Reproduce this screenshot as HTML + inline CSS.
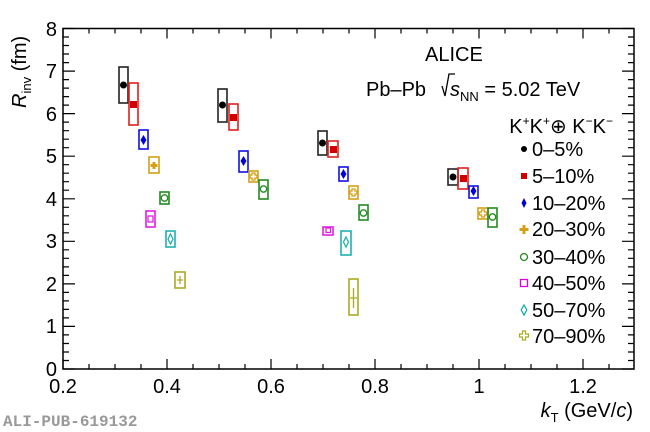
<!DOCTYPE html>
<html><head><meta charset="utf-8"><style>
html,body{margin:0;padding:0;background:#fff;}
svg{display:block;font-family:"Liberation Sans",sans-serif;}
</style></head><body>
<svg width="650" height="432" viewBox="0 0 650 432" xmlns="http://www.w3.org/2000/svg">
<rect x="0" y="0" width="650" height="432" fill="#fff"/>
<!-- frame -->
<rect x="63" y="28.5" width="571" height="340.5" fill="none" stroke="#000" stroke-width="1.5"/>
<g stroke="#000" stroke-width="1.2" id="ticks">
<!-- x major -->
<path d="M63 369v-10M167 369v-10M271 369v-10M375 369v-10M479 369v-10M583 369v-10
M63 28.5v10M167 28.5v10M271 28.5v10M375 28.5v10M479 28.5v10M583 28.5v10"/>
<!-- x minor -->
<path d="M89 369v-5M115 369v-5M141 369v-5M193 369v-5M219 369v-5M245 369v-5M297 369v-5M323 369v-5M349 369v-5M401 369v-5M427 369v-5M453 369v-5M505 369v-5M531 369v-5M557 369v-5M609 369v-5
M89 28.5v5M115 28.5v5M141 28.5v5M193 28.5v5M219 28.5v5M245 28.5v5M297 28.5v5M323 28.5v5M349 28.5v5M401 28.5v5M427 28.5v5M453 28.5v5M505 28.5v5M531 28.5v5M557 28.5v5M609 28.5v5"/>
<!-- y major -->
<path d="M63 369h12M63 326.4h12M63 283.9h12M63 241.3h12M63 198.8h12M63 156.2h12M63 113.6h12M63 71.1h12M63 28.5h12
M634 369h-12M634 326.4h-12M634 283.9h-12M634 241.3h-12M634 198.8h-12M634 156.2h-12M634 113.6h-12M634 71.1h-12M634 28.5h-12"/>
</g>
<g stroke="#000" stroke-width="1.2" id="ymin"></g>
<!-- y tick labels -->
<g font-size="20" text-anchor="end" fill="#000">
<text x="57" y="376">0</text><text x="57" y="333">1</text><text x="57" y="291">2</text><text x="57" y="248">3</text>
<text x="57" y="206">4</text><text x="57" y="163">5</text><text x="57" y="121">6</text><text x="57" y="78">7</text><text x="57" y="36">8</text>
</g>
<g font-size="20" text-anchor="middle" fill="#000">
<text x="63" y="393">0.2</text><text x="167" y="393">0.4</text><text x="271" y="393">0.6</text><text x="375" y="393">0.8</text>
<text x="479" y="393">1</text><text x="583" y="393">1.2</text>
</g>
<text x="633" y="417" font-size="20" text-anchor="end"><tspan font-style="italic">k</tspan><tspan font-size="13" dy="5">T</tspan><tspan dy="-5"> (GeV/</tspan><tspan font-style="italic">c</tspan>)</text>
<text transform="translate(26,108) rotate(-90)" font-size="20"><tspan font-style="italic">R</tspan><tspan font-size="13" dy="5">inv</tspan><tspan dy="-5"> (fm)</tspan></text>
<text x="3" y="426" font-family="Liberation Mono,monospace" font-weight="bold" font-size="16" fill="#999">ALI-PUB-619132</text>
<!-- annotations -->
<text x="425" y="61" font-size="20">ALICE</text>
<text x="366" y="96" font-size="20">Pb–Pb</text>
<path d="M442 86l3 10 4-22h6" fill="none" stroke="#000" stroke-width="1.3"/>
<text x="450" y="96" font-size="20"><tspan font-style="italic">s</tspan><tspan font-size="13" dy="5">NN</tspan><tspan dy="-5"> = 5.02 TeV</tspan></text>
<text x="613" y="133" font-size="20" text-anchor="end">K<tspan font-size="12" dy="-8">+</tspan><tspan dy="8">K</tspan><tspan font-size="12" dy="-8">+</tspan><tspan dy="8">⊕ K</tspan><tspan font-size="12" dy="-8">−</tspan><tspan dy="8">K</tspan><tspan font-size="12" dy="-8">−</tspan></text>
<!-- legend -->
<g font-size="20" fill="#000">
<text x="532" y="156">0–5%</text><text x="532" y="183">5–10%</text><text x="532" y="210">10–20%</text><text x="532" y="236">20–30%</text>
<text x="532" y="264">30–40%</text><text x="532" y="290">40–50%</text><text x="532" y="317">50–70%</text><text x="532" y="343">70–90%</text>
</g>
<circle cx="524" cy="149" r="3" fill="#000"/>
<rect x="521" y="173" width="6" height="6" fill="#d00000"/>
<path d="M524 198l2.5 5-2.5 5-2.5-5z" fill="#0000dd"/>
<path d="M522.5 225h3v3h3v3h-3v3h-3v-3h-3v-3h3z" fill="#d4a017"/>
<circle cx="524" cy="257" r="3.5" fill="none" stroke="#228b22" stroke-width="1.3"/>
<rect x="520.5" y="279.5" width="7" height="7" fill="none" stroke="#e000e0" stroke-width="1.3"/>
<path d="M524 305l2.8 5-2.8 5-2.8-5z" fill="none" stroke="#00aaaa" stroke-width="1.2"/>
<path d="M522.5 331h3v3h3v3h-3v3h-3v-3h-3v-3h3z" fill="none" stroke="#aaaa22" stroke-width="1.2"/>
<!-- data boxes -->
<g fill="none" stroke-width="1.6">
<g stroke="#222"><rect x="119" y="67" width="9" height="36"/><rect x="218" y="89" width="9" height="33"/><rect x="318" y="131" width="9" height="24"/><rect x="448" y="169" width="10" height="16"/></g>
<g stroke="#e02020"><rect x="129" y="83" width="9" height="42"/><rect x="229" y="104" width="9" height="26"/><rect x="328" y="141" width="10" height="16"/><rect x="458" y="168" width="10" height="21"/></g>
<g stroke="#1010e0"><rect x="139" y="130" width="9" height="19"/><rect x="239" y="151" width="9" height="21"/><rect x="339" y="167" width="9" height="14"/><rect x="469" y="186" width="9" height="12"/></g>
<g stroke="#d4a017"><rect x="149" y="157" width="10" height="16"/><rect x="249" y="171" width="9" height="11"/><rect x="349" y="186" width="9" height="13"/><rect x="478" y="208" width="10" height="11"/></g>
<g stroke="#228b22"><rect x="160" y="192" width="9" height="12"/><rect x="259" y="180" width="9" height="19"/><rect x="359" y="205" width="9" height="15"/><rect x="488" y="208" width="9" height="19"/></g>
<g stroke="#e020e0"><rect x="146" y="211" width="9" height="16"/><rect x="323" y="227" width="10" height="8"/></g>
<g stroke="#20b0b0"><rect x="166" y="231" width="9" height="16"/><rect x="341" y="231" width="10" height="24"/></g>
<g stroke="#aaaa22"><rect x="175" y="272" width="10" height="16"/><rect x="349" y="279" width="9" height="36"/></g>
</g>
<!-- markers -->
<g fill="#000"><circle cx="123.5" cy="85" r="3.5"/><circle cx="222.5" cy="105" r="3.5"/><circle cx="322.5" cy="143" r="3.5"/><circle cx="453" cy="177" r="3.5"/></g>
<g fill="#d00000"><rect x="130" y="101" width="7" height="7"/><rect x="230" y="114" width="7" height="7"/><rect x="330" y="146" width="7" height="7"/><rect x="460" y="175" width="7" height="7"/></g>
<g fill="#0000dd"><path d="M143.5 135l3 5-3 5-3-5z"/><path d="M243.5 156l3 5-3 5-3-5z"/><path d="M343.5 169l3 5-3 5-3-5z"/><path d="M473.5 186l3 5-3 5-3-5z"/></g>
<g fill="#d4a017"><path d="M152.5 162h3v2h2v3h-2v2h-3v-2h-2v-3h2z"/></g>
<g fill="none" stroke-width="1.3">
<g stroke="#d4a017"><path d="M252 173h3v2h2v3h-2v2h-3v-2h-2v-3h2z"/><path d="M352 189h3v2h2v3h-2v2h-3v-2h-2v-3h2z"/><path d="M481.5 210h3v2h2v3h-2v2h-3v-2h-2v-3h2z"/></g>
<g stroke="#228b22"><circle cx="164.5" cy="198" r="3.2"/><circle cx="263.5" cy="189" r="3.2"/><circle cx="363.5" cy="213" r="3.2"/><circle cx="492.5" cy="217" r="3.2"/></g>
<g stroke="#e020e0"><rect x="148" y="216" width="5" height="6"/><rect x="326" y="228" width="4.5" height="4.5"/></g>
<g stroke="#20b0b0"><path d="M170.5 234l2.5 5-2.5 5-2.5-5z"/><path d="M346 237l2.5 5-2.5 5-2.5-5z"/></g>
<g stroke="#aaaa22"><path d="M180 276v8M177 280h6"/><path d="M353.5 288v20M350 298h7"/></g>
</g>
</svg>
<script>
(function(){var g=document.getElementById('ymin');var d='';for(var i=0;i<=40;i++){if(i%5==0)continue;var y=369-i*8.5125;d+='M63 '+y.toFixed(1)+'h6M634 '+y.toFixed(1)+'h-6';}var p=document.createElementNS('http://www.w3.org/2000/svg','path');p.setAttribute('d',d);g.appendChild(p);})();
</script>
</body></html>
